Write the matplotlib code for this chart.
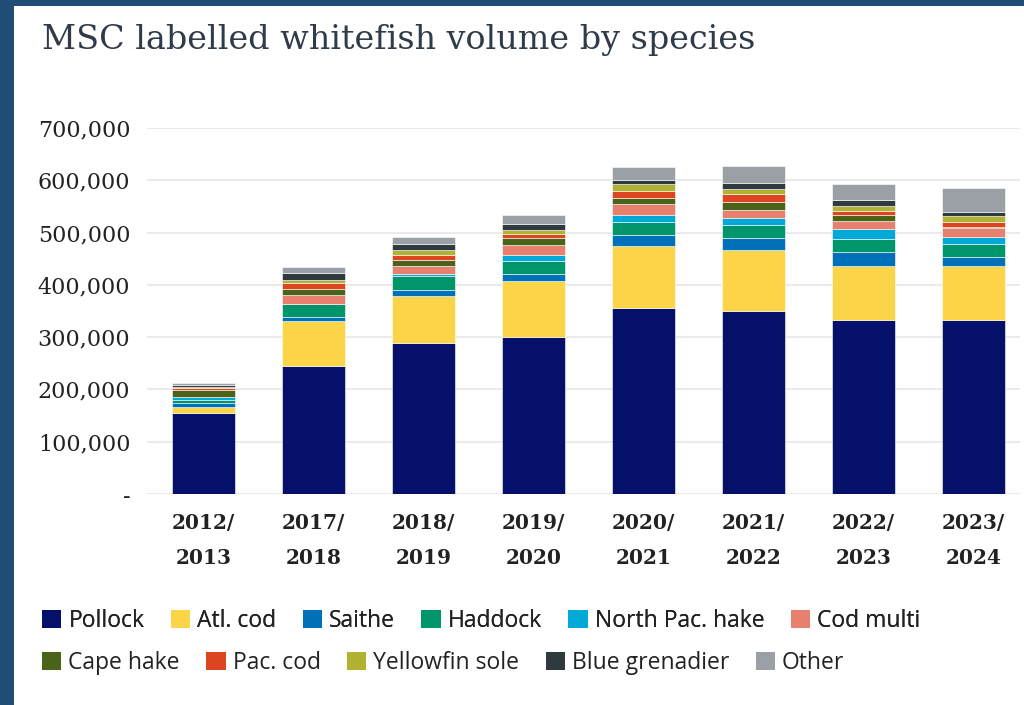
import matplotlib
matplotlib.use("Agg")
import matplotlib.pyplot as plt
from matplotlib.patches import Rectangle, Patch
from matplotlib.ticker import FuncFormatter
import numpy as np

categories = ["2012/\n2013", "2017/\n2018", "2018/\n2019", "2019/\n2020",
              "2020/\n2021", "2021/\n2022", "2022/\n2023", "2023/\n2024"]

pollock        = [154000, 245000, 288000, 300000, 355000, 350000, 333000, 333000]
atl_cod        = [12000, 85000, 91000, 108000, 120000, 116000, 104000, 104000]
saithe         = [9000, 8000, 12000, 12000, 20000, 24000, 25000, 17000]
haddock        = [4000, 25000, 26000, 25000, 26000, 25000, 26000, 25000]
north_pac_hake = [6000, 1000, 3000, 13000, 13000, 13000, 18000, 13000]
cod_multi      = [0, 16000, 17000, 18000, 20000, 16000, 16000, 16000]
cape_hake      = [13000, 13000, 11000, 13000, 13000, 14000, 11000, 2000]
pac_cod        = [4000, 10000, 10000, 8000, 13000, 16000, 9000, 10000]
yellowfin_sole = [2000, 6000, 8000, 7000, 13000, 10000, 8000, 11000]
blue_grenadier = [4000, 13000, 13000, 13000, 8000, 11000, 13000, 9000]
other          = [5000, 13000, 13000, 17000, 24000, 33000, 29000, 45000]

series_names = ["Pollock", "Atl. cod", "Saithe", "Haddock", "North Pac. hake", "Cod multi",
                "Cape hake", "Pac. cod", "Yellowfin sole", "Blue grenadier", "Other"]
series_values = [pollock, atl_cod, saithe, haddock, north_pac_hake, cod_multi,
                 cape_hake, pac_cod, yellowfin_sole, blue_grenadier, other]
colors = ["#05106b", "#fcd447", "#0070b8", "#00956a", "#00a9d8", "#e8806f",
          "#4b6319", "#dd4421", "#b2b232", "#2e3a3e", "#9aa0a6"]

yticks = [0, 100000, 200000, 300000, 400000, 500000, 600000, 700000]

fig = plt.figure(figsize=(10.24, 7.05), dpi=100)
fig.patch.set_facecolor("white")

# border
border = "#1f4d78"
fig.add_artist(Rectangle((0, 0), 14 / 1024, 1, transform=fig.transFigure,
                         facecolor=border, edgecolor="none", zorder=0))
fig.add_artist(Rectangle((0, 1 - 6 / 705), 1, 6 / 705, transform=fig.transFigure,
                         facecolor=border, edgecolor="none", zorder=0))

ax = fig.add_axes([147 / 1024, (705 - 494) / 705, (1020 - 147) / 1024, (494 - 128) / 705])
x = np.arange(len(categories))
bottom = np.zeros(len(categories))
for name, vals, c in zip(series_names, series_values, colors):
    v = np.array(vals, dtype=float)
    ax.bar(x, v, bottom=bottom, width=0.573, color=c, edgecolor="#ffffff",
           linewidth=0.4, label=name, zorder=3)
    bottom += v

ax.set_xlim(-0.514, 7.423)
ax.set_ylim(0, 700000)
ax.set_yticks(yticks)
ax.yaxis.set_major_formatter(FuncFormatter(lambda v, p: "-" if v == 0 else f"{int(v):,}"))
ax.set_xticks(x)
ax.set_xticklabels(categories, fontweight="bold", fontsize=14.5, color="#222222",
                   linespacing=1.9, family="DejaVu Serif")
for lbl in ax.get_yticklabels():
    lbl.set_fontsize(16)
    lbl.set_color("#222222")
    lbl.set_family("DejaVu Serif")
ax.tick_params(axis="both", length=0)
ax.tick_params(axis="y", pad=12)
ax.tick_params(axis="x", pad=14)
ax.grid(axis="y", color="#ebebeb", linewidth=1.5, zorder=0)
for s in ax.spines.values():
    s.set_visible(False)

fig.text(42 / 1024, 1 - 40 / 705, "MSC labelled whitefish volume by species",
         fontsize=24, family="DejaVu Serif", color="#2f3b48", va="center", ha="left")

handles = [Patch(facecolor=c, edgecolor="none") for c in colors]
common = dict(loc="center left", frameon=False, handlelength=0.85, handleheight=0.85,
              handletextpad=0.3, columnspacing=1.15, borderaxespad=0, borderpad=0,
              labelcolor="#222222", prop={"family": "Open Sans", "size": 16.5})
leg1 = fig.legend(handles[:6], series_names[:6], ncol=6,
                  bbox_to_anchor=(42 / 1024, 1 - 621 / 705), **common)
leg2 = fig.legend(handles[6:], series_names[6:], ncol=5,
                  bbox_to_anchor=(42 / 1024, 1 - 663 / 705), **common)
fig.add_artist(leg1)

fig.savefig("out.png", dpi=100, facecolor="white")
